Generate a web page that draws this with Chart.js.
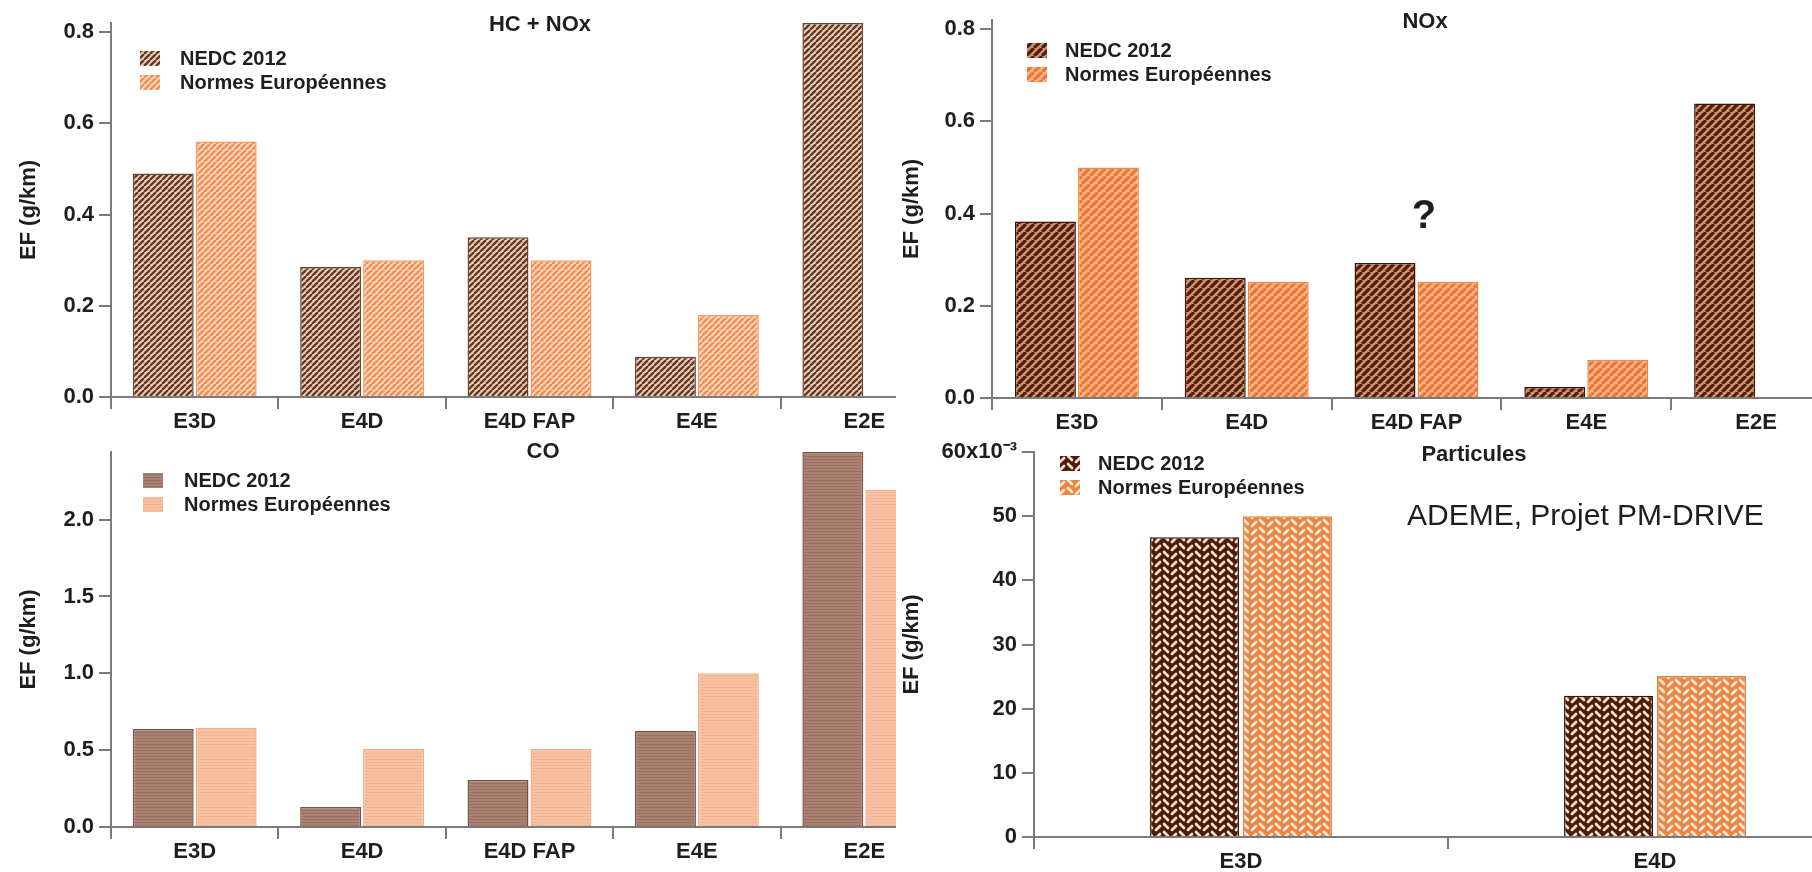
<!DOCTYPE html>
<html>
<head>
<meta charset="utf-8">
<script src="https://cdn.jsdelivr.net/npm/chart.js@4"></script>
<style>
body { margin: 0; background: #fff; width: 1812px; height: 872px; overflow: hidden; position: relative; }
.panel { position: absolute; overflow: hidden; }
.panel canvas { position: absolute; left: 0; top: 0; }
</style>
</head>
<body>
<div class="panel" style="left:0;top:0;width:896px;height:440px"><canvas id="hcChart" width="970" height="440"></canvas></div>
<div class="panel" style="left:890px;top:0;width:922px;height:440px"><canvas id="noxChart" width="970" height="440"></canvas></div>
<div class="panel" style="left:0;top:430px;width:896px;height:442px"><canvas id="coChart" width="970" height="442"></canvas></div>
<div class="panel" style="left:890px;top:430px;width:922px;height:442px"><canvas id="pmChart" width="990" height="442"></canvas></div>
<script>
// vehicle categories
const vehicles = ["E3D", "E4D", "E4D FAP", "E4E", "E2E"];
const vehiclesPm = ["E3D", "E4D"];

// emission factors (g/km)
const hcNoxNedc = [0.49, 0.285, 0.35, 0.088, 0.82];
const hcNoxNormes = [0.56, 0.30, 0.30, 0.18, null];
const noxNedc = [0.383, 0.261, 0.293, 0.024, 0.639];
const noxNormes = [0.50, 0.252, 0.252, 0.083, null];
const coNedc = [0.638, 0.13, 0.306, 0.625, 2.44];
const coNormes = [0.645, 0.508, 0.508, 1.0, 2.195];
const pmNedc = [0.0467, 0.022];
const pmNormes = [0.050, 0.0251];

// y tick values
const gasTicks = [0, 0.2, 0.4, 0.6, 0.8];
const coTicks = [0, 0.5, 1.0, 1.5, 2.0];
const pmTicks = [0, 0.01, 0.02, 0.03, 0.04, 0.05, 0.06];

const FONT = '"Liberation Sans", Arial, Helvetica, sans-serif';
const INK = "#1e1e1e";
const AXIS = "#7a7a7a";

// hatch fills
const stripes = (bg, fg, size, width) => {
    const c = document.createElement("canvas");
    c.width = c.height = size;
    const g = c.getContext("2d");
    g.fillStyle = bg;
    g.fillRect(0, 0, size, size);
    g.strokeStyle = fg;
    g.lineWidth = width;
    g.beginPath();
    for (let k = -1; k <= 1; k++) {
        g.moveTo(k * size, size);
        g.lineTo(k * size + size, 0);
    }
    g.stroke();
    return g.createPattern(c, "repeat");
};

const hlines = (bg, fg) => {
    const c = document.createElement("canvas");
    c.width = 4; c.height = 3;
    const g = c.getContext("2d");
    g.fillStyle = bg;
    g.fillRect(0, 0, 4, 3);
    g.fillStyle = fg;
    g.fillRect(0, 2, 4, 1);
    return g.createPattern(c, "repeat");
};

// herringbone-like weave of short light dashes
const weave = (bg, fg) => {
    const c = document.createElement("canvas");
    c.width = c.height = 16;
    const g = c.getContext("2d");
    g.fillStyle = bg;
    g.fillRect(0, 0, 16, 16);
    g.strokeStyle = fg;
    g.lineWidth = 2.7;
    g.lineCap = "round";
    const dash = (x0, y0, x1, y1) => { g.beginPath(); g.moveTo(x0, y0); g.lineTo(x1, y1); g.stroke(); };
    dash(2, 2, 6, 6);
    dash(2, 10, 6, 14);
    dash(10, 8, 14, 4);
    dash(10, 16, 14, 12);
    dash(10, 0, 14, -4);
    return g.createPattern(c, "repeat");
};

// titles, legend and notes drawn on top of each panel
const decor = {
    id: "decor",
    afterDraw(chart, args, o) {
        const ctx = chart.ctx;
        const ox = o.origin[0], oy = o.origin[1];
        ctx.save();
        ctx.textBaseline = "middle";
        ctx.fillStyle = INK;
        ctx.textAlign = "center";
        ctx.font = `bold 22px ${FONT}`;
        ctx.fillText(o.title, o.titlePos[0] - ox, o.titlePos[1] - oy);
        chart.data.datasets.forEach((ds, i) => {
            const x = o.legend[0] - ox;
            const y = o.legend[1] + i * 24 - oy;
            ctx.fillStyle = ds.backgroundColor;
            ctx.fillRect(x, y - 7, 20, 15);
            ctx.fillStyle = INK;
            ctx.textAlign = "left";
            ctx.font = `bold 20px ${FONT}`;
            ctx.fillText(ds.label, o.legend[2] - ox, y + 1);
        });
        (o.notes || []).forEach(n => {
            ctx.font = n.font;
            ctx.textAlign = n.align;
            ctx.fillStyle = INK;
            ctx.fillText(n.text, n.x - ox, n.y - oy);
        });
        ctx.restore();
    }
};

const tickFont = { family: FONT, size: 22, weight: "bold" };

const makePanel = (canvasId, c) => {
    return new Chart(document.getElementById(canvasId), {
        type: "bar",
        data: {
            labels: c.labels,
            datasets: [
                {
                    label: "NEDC 2012",
                    data: c.nedc,
                    backgroundColor: c.fills[0],
                    borderColor: c.borders[0],
                    borderWidth: 1.5,
                    categoryPercentage: c.catPct,
                    barPercentage: c.barPct,
                },
                {
                    label: "Normes Européennes",
                    data: c.normes,
                    backgroundColor: c.fills[1],
                    borderColor: c.borders[1],
                    borderWidth: 1.5,
                    categoryPercentage: c.catPct,
                    barPercentage: c.barPct,
                },
            ],
        },
        options: {
            responsive: false,
            animation: false,
            events: [],
            layout: { padding: { top: c.padTop, right: c.padRight, left: 0, bottom: 0 } },
            plugins: {
                legend: { display: false },
                tooltip: { enabled: false },
                decor: c.decor,
            },
            scales: {
                x: {
                    offset: true,
                    afterFit: s => { s.height = c.xHeight; },
                    ticks: { font: tickFont, color: INK, padding: 0, maxRotation: 0, autoSkip: false },
                    grid: { offset: true, drawOnChartArea: false, tickLength: 12, color: AXIS, lineWidth: 2 },
                    border: { color: AXIS, width: 2 },
                },
                y: {
                    min: 0,
                    max: c.yMax,
                    afterBuildTicks: s => { s.ticks = c.yTicks.map(v => ({ value: v })); },
                    afterFit: s => { s.width = c.yWidth; },
                    ticks: { font: tickFont, color: INK, padding: 5, callback: c.yFormat },
                    grid: { drawOnChartArea: false, tickLength: 12, color: AXIS, lineWidth: 2 },
                    border: { color: AXIS, width: 2 },
                    title: {
                        display: true,
                        text: "EF (g/km)",
                        font: tickFont,
                        color: INK,
                        padding: { top: c.titlePad, bottom: 0 },
                    },
                },
            },
        },
        plugins: [decor],
    });
};

const oneDecimal = v => v.toFixed(1);

makePanel("hcChart", {
    labels: vehicles, nedc: hcNoxNedc, normes: hcNoxNormes,
    fills: [stripes("#f0cdb2", "#5e3828", 6, 2.3), stripes("#fcdcc4", "#f48e52", 6, 2.6)],
    borders: ["#6a4434", "#f29a66"],
    catPct: 0.752, barPct: 0.968,
    yMax: 0.82, yTicks: gasTicks, yFormat: oneDecimal,
    yWidth: 111, xHeight: 43, padTop: 23, padRight: 22, titlePad: 16,
    decor: { origin: [0, 0], title: "HC + NOx", titlePos: [540, 25], legend: [140, 58, 180] },
});

makePanel("noxChart", {
    labels: vehicles, nedc: noxNedc, normes: noxNormes,
    fills: [stripes("#c8926e", "#561c0a", 8, 3.2), stripes("#f9b68c", "#f07634", 8, 3.2)],
    borders: ["#3f1508", "#f08848"],
    catPct: 0.742, barPct: 0.968,
    yMax: 0.82, yTicks: gasTicks, yFormat: oneDecimal,
    yWidth: 102, xHeight: 42, padTop: 20, padRight: 19, titlePad: 9,
    decor: {
        origin: [890, 0], title: "NOx", titlePos: [1425, 22], legend: [1027, 50, 1065],
        notes: [{ text: "?", x: 1424, y: 217, font: `bold 40px ${FONT}`, align: "center" }],
    },
});

makePanel("coChart", {
    labels: vehicles, nedc: coNedc, normes: coNormes,
    fills: [hlines("#a98273", "#9a7060"), hlines("#f8c1a2", "#f2b594")],
    borders: ["#7a5040", "#f0ae8a"],
    catPct: 0.752, barPct: 0.968,
    yMax: 2.44, yTicks: coTicks, yFormat: oneDecimal,
    yWidth: 111, xHeight: 45, padTop: 22, padRight: 22, titlePad: 16,
    decor: { origin: [0, 430], title: "CO", titlePos: [543, 452], legend: [143, 480, 184] },
});

makePanel("pmChart", {
    labels: vehiclesPm, nedc: pmNedc, normes: pmNormes,
    fills: [weave("#4d1c0c", "#f6e4cc"), weave("#ec8444", "#fbe6d0")],
    borders: ["#3a1206", "#e08040"],
    catPct: 0.449, barPct: 0.957,
    yMax: 0.06, yTicks: pmTicks,
    yFormat: (v, i, ticks) => {
        const k = Math.round(v * 1000);
        return i === ticks.length - 1 ? k + "x10\u207B\u00B3" : String(k);
    },
    yWidth: 144, xHeight: 35, padTop: 22, padRight: 18, titlePad: 9,
    decor: {
        origin: [890, 430], title: "Particules", titlePos: [1474, 455], legend: [1060, 463, 1098],
        notes: [{ text: "ADEME, Projet PM-DRIVE", x: 1407, y: 517, font: `30px ${FONT}`, align: "left" }],
    },
});
</script>
</body>
</html>
